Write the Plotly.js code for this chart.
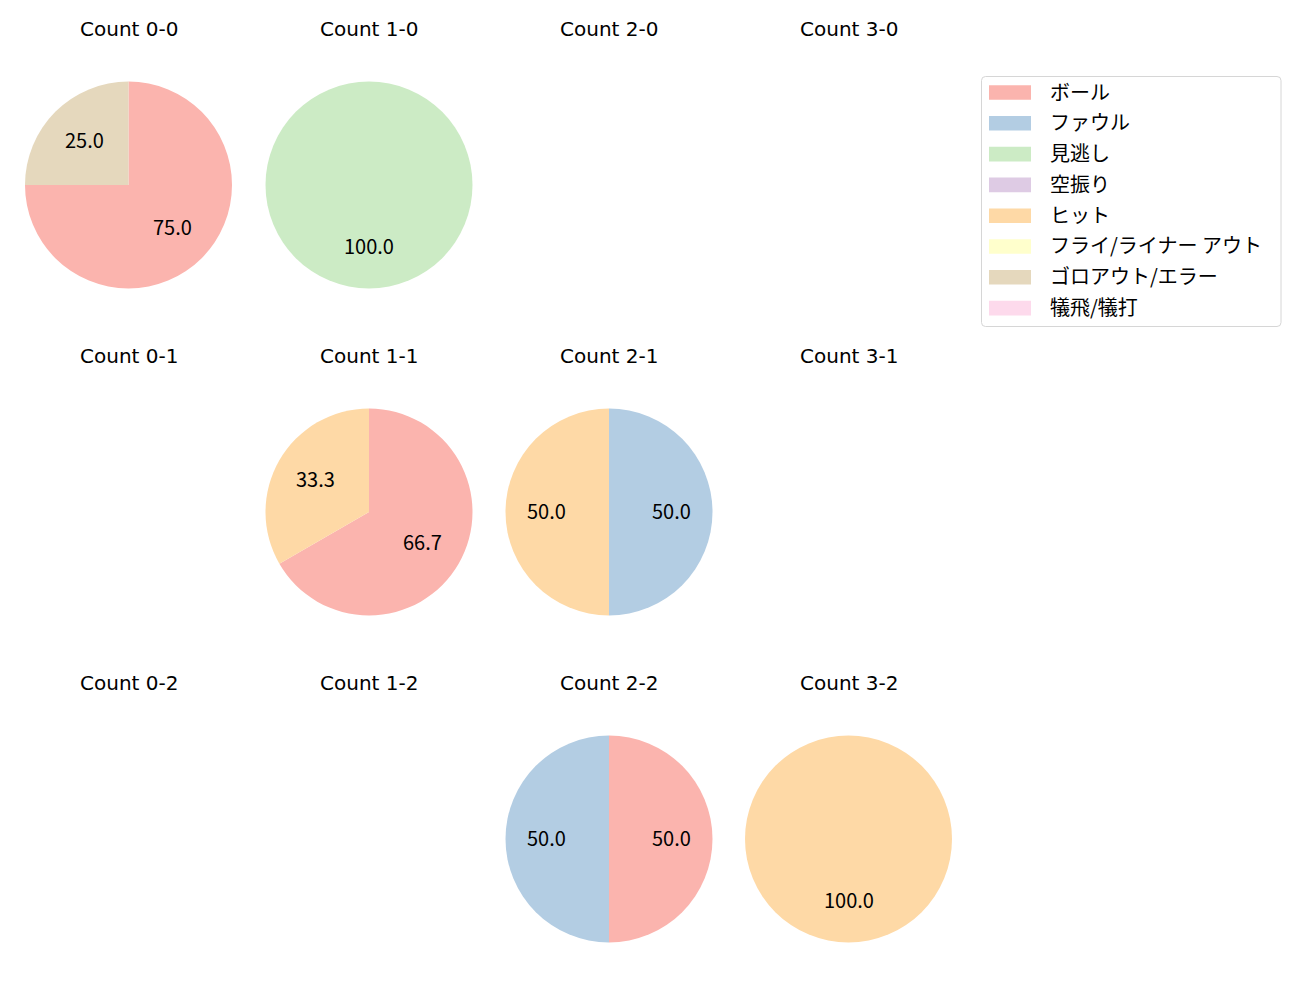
<!DOCTYPE html>
<html><head><meta charset="utf-8">
<script src="https://cdn.plot.ly/plotly-3.0.1.min.js"></script>
<style>html,body{margin:0;padding:0;background:#fff}</style>
</head><body><div id="chart" style="width:1300px;height:1000px"></div>
<script>
// ---- data ----
const categories = ['ボール','ファウル','見逃し','空振り','ヒット','フライ/ライナー アウト','ゴロアウト/エラー','犠飛/犠打'];
const colors = ['#fbb4ae','#b3cde3','#ccebc5','#decbe4','#fed9a6','#ffffcc','#e5d8bd','#fddaec'];
const balls = [0,1,2,3];
const strikes = [0,1,2];
// counts per category (same order as categories)
const count_0_0 = [3,0,0,0,0,0,1,0];
const count_1_0 = [0,0,1,0,0,0,0,0];
const count_2_0 = [0,0,0,0,0,0,0,0];
const count_3_0 = [0,0,0,0,0,0,0,0];
const count_0_1 = [0,0,0,0,0,0,0,0];
const count_1_1 = [2,0,0,0,1,0,0,0];
const count_2_1 = [0,1,0,0,1,0,0,0];
const count_3_1 = [0,0,0,0,0,0,0,0];
const count_0_2 = [0,0,0,0,0,0,0,0];
const count_1_2 = [0,0,0,0,0,0,0,0];
const count_2_2 = [1,1,0,0,0,0,0,0];
const count_3_2 = [0,0,0,0,1,0,0,0];
const countTable = {
  '0-0':count_0_0,'1-0':count_1_0,'2-0':count_2_0,'3-0':count_3_0,
  '0-1':count_0_1,'1-1':count_1_1,'2-1':count_2_1,'3-1':count_3_1,
  '0-2':count_0_2,'1-2':count_1_2,'2-2':count_2_2,'3-2':count_3_2
};

// ---- layout geometry (pixels) ----
const W = 1300, H = 1000;
const colCenters = [128.5, 369, 609, 848.5];
const rowCenters = [185, 512, 839];
const R = 103.5;
const titleOffset = 156;
const FONT = '"Noto Sans CJK JP", "Noto Sans", sans-serif';
const TFONT = '"DejaVu Sans", "Noto Sans CJK JP", sans-serif';
const FS = 20;
const X = px => px / W;
const Y = py => 1 - py / H;

const traces = [];
const annotations = [];
const shapes = [];
const layout = {
  width: W, height: H,
  margin: {l:0, r:0, t:0, b:0},
  paper_bgcolor: '#ffffff', plot_bgcolor: 'rgba(0,0,0,0)',
  showlegend: false,
  font: {family: FONT, size: FS, color: '#000'},
  annotations, shapes
};

let axIdx = 0;
strikes.forEach((s, ri) => {
  balls.forEach((b, ci) => {
    const key = b + '-' + s;
    const vals = countTable[key];
    const cx = colCenters[ci], cy = rowCenters[ri];
    annotations.push({
      text: 'Count ' + key, xref: 'paper', yref: 'paper',
      x: X(cx), y: Y(cy - titleOffset), xanchor: 'center', yanchor: 'middle', yshift: 0,
      showarrow: false, font: {family: TFONT, size: FS, color: '#000'}
    });
    const total = vals.reduce((a, v) => a + v, 0);
    if (total === 0) return;
    const dx = [X(cx - R), X(cx + R)];
    const dy = [Y(cy + R), Y(cy - R)];
    traces.push({
      type: 'pie', labels: categories, values: vals,
      marker: {colors: colors, line: {width: 0}},
      sort: false, direction: 'clockwise', rotation: 0,
      textinfo: 'none', hoverinfo: 'label+percent', showlegend: false,
      domain: {x: dx, y: dy}
    });
    axIdx++;
    const sfx = axIdx === 1 ? '' : String(axIdx);
    layout['xaxis' + sfx] = {domain: dx, range: [-1, 1], visible: false, fixedrange: true, anchor: 'y' + sfx};
    layout['yaxis' + sfx] = {domain: dy, range: [-1, 1], visible: false, fixedrange: true, anchor: 'x' + sfx};
    traces.push({type: 'scatter', x: [], y: [], xaxis: 'x' + sfx, yaxis: 'y' + sfx, hoverinfo: 'skip', showlegend: false});
    let cum = 0;
    vals.forEach(v => {
      if (v <= 0) return;
      const frac = v / total;
      const phi = 2 * Math.PI * (cum + frac / 2);
      cum += frac;
      annotations.push({
        text: (frac * 100).toFixed(1), xref: 'x' + sfx, yref: 'y' + sfx,
        x: 0.6 * Math.sin(phi), y: 0.6 * Math.cos(phi),
        xanchor: 'center', yanchor: 'middle', yshift: 2, showarrow: false,
        font: {family: FONT, size: FS, color: '#000'}
      });
    });
  });
});

// ---- legend (drawn manually) ----
const lg = {x0: 981.5, x1: 1281, y0: 76.5, y1: 326.5, r: 4};
const pth = `M ${X(lg.x0 + lg.r)} ${Y(lg.y0)} L ${X(lg.x1 - lg.r)} ${Y(lg.y0)} Q ${X(lg.x1)} ${Y(lg.y0)} ${X(lg.x1)} ${Y(lg.y0 + lg.r)} ` +
  `L ${X(lg.x1)} ${Y(lg.y1 - lg.r)} Q ${X(lg.x1)} ${Y(lg.y1)} ${X(lg.x1 - lg.r)} ${Y(lg.y1)} ` +
  `L ${X(lg.x0 + lg.r)} ${Y(lg.y1)} Q ${X(lg.x0)} ${Y(lg.y1)} ${X(lg.x0)} ${Y(lg.y1 - lg.r)} ` +
  `L ${X(lg.x0)} ${Y(lg.y0 + lg.r)} Q ${X(lg.x0)} ${Y(lg.y0)} ${X(lg.x0 + lg.r)} ${Y(lg.y0)} Z`;
shapes.push({type: 'path', xref: 'paper', yref: 'paper', path: pth, fillcolor: '#ffffff', line: {color: '#d6d6d6', width: 1}, layer: 'above'});
const rowPitch = 30.8, row0 = 92.5;
categories.forEach((c, i) => {
  const yc = row0 + i * rowPitch;
  shapes.push({type: 'rect', xref: 'paper', yref: 'paper', x0: X(989), x1: X(1031), y0: Y(yc + 7.3), y1: Y(yc - 7.3),
    fillcolor: colors[i], line: {width: 0}, layer: 'above'});
  annotations.push({text: c, xref: 'paper', yref: 'paper', x: X(1048), y: Y(yc), xanchor: 'left', yanchor: 'middle', yshift: 1.5,
    showarrow: false, font: {family: FONT, size: FS, color: '#000'}});
});

Plotly.newPlot('chart', traces, layout, {displayModeBar: false, staticPlot: true});
</script></body></html>
